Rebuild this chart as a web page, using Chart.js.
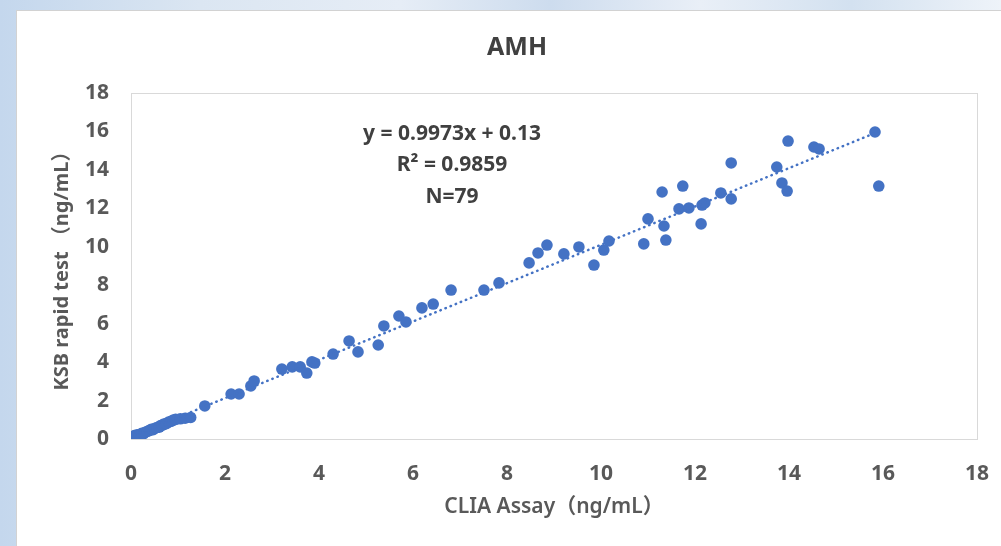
<!DOCTYPE html>
<html>
<head>
<meta charset="utf-8">
<script src="https://cdn.jsdelivr.net/npm/chart.js@4/dist/chart.umd.min.js"></script>
<style>
  html, body { margin:0; padding:0; }
  body {
    width:1001px; height:546px; overflow:hidden; position:relative;
    background: linear-gradient(90deg, #c4d7ed 0%, #dbe6f2 20%, #e6edf6 40%, #cddcee 55%, #e9eff7 70%, #d3e1f0 85%, #eef3f9 100%);
  }
  #card {
    position:absolute; left:16px; top:10px; width:1000px; height:545px;
    background:#ffffff; border:1px solid #d2d2d2;
  }
  #wrap { position:absolute; left:0; top:0; width:1001px; height:546px; }
</style>
</head>
<body>
<div id="card"></div>
<div id="wrap"><canvas id="c" width="1001" height="546"></canvas></div>
<script>
// ---- data ----
const chartTitle = "AMH";
const xAxisTitle = "CLIA Assay（ng/mL）";
const yAxisTitle = "KSB rapid test （ng/mL）";
const xTicks = [0, 2, 4, 6, 8, 10, 12, 14, 16, 18];
const yTicks = [0, 2, 4, 6, 8, 10, 12, 14, 16, 18];

const cliaAssay = [
  0.08, 0.12, 0.15, 0.18, 0.20, 0.23, 0.27, 0.30, 0.35, 0.40,
  0.43, 0.47, 0.50, 0.55, 0.60, 0.63, 0.67, 0.70, 0.75, 0.80,
  0.85, 0.90, 0.95, 1.05, 1.15, 1.27,
  1.57, 2.13, 2.30, 2.55, 2.62,
  3.21, 3.43, 3.60, 3.74, 3.85, 3.91, 4.30, 4.64, 4.83, 5.26,
  5.38, 5.70, 5.85, 6.19, 6.43, 6.81, 7.51, 7.83, 8.47, 8.66,
  8.85, 9.21, 9.53, 9.85, 10.06, 10.17,
  10.91, 11.00, 11.30, 11.34, 11.38, 11.66, 11.74, 11.87, 12.13, 12.15,
  12.21, 12.55, 12.77, 12.77, 13.74, 13.85, 13.96,
  13.98, 14.53, 14.64, 15.83, 15.91
];
const ksbRapid = [
  0.18, 0.20, 0.22, 0.20, 0.25, 0.30, 0.28, 0.35, 0.40, 0.45,
  0.50, 0.48, 0.55, 0.60, 0.62, 0.70, 0.72, 0.78, 0.80, 0.88,
  0.92, 0.98, 1.02, 1.05, 1.08, 1.12,
  1.72, 2.34, 2.34, 2.76, 3.02,
  3.64, 3.75, 3.75, 3.43, 4.01, 3.95, 4.42, 5.10, 4.53, 4.89,
  5.88, 6.40, 6.09, 6.82, 7.02, 7.75, 7.75, 8.12, 9.16, 9.68,
  10.09, 9.63, 9.99, 9.05, 9.83, 10.30,
  10.15, 11.45, 12.85, 11.08, 10.35, 11.97, 13.16, 12.02, 11.19, 12.17,
  12.28, 12.80, 14.36, 12.49, 14.15, 13.32, 12.90,
  15.50, 15.19, 15.09, 15.97, 13.16
];
// linear trendline reported on the chart
const trendSlope = 0.9973;
const trendIntercept = 0.13;
const trendRange = [0.08, 15.91];
const annotationLines = ["y = 0.9973x + 0.13", "R² = 0.9859", "N=79"];

// ---- build ----
const points = cliaAssay.map((x, i) => ({ x: x, y: ksbRapid[i] }));
const trend = trendRange.map(x => ({ x: x, y: trendSlope * x + trendIntercept }));

const FONT = '"Noto Sans", "Noto Sans CJK SC", sans-serif';
const BLUE = '#4472C4';
const GREY = '#595959';

const decorPlugin = {
  id: 'decor',
  beforeDatasetsDraw(chart) {
    const { ctx, chartArea: a } = chart;
    ctx.save();
    ctx.strokeStyle = '#d9d9d9';
    ctx.lineWidth = 1;
    ctx.strokeRect(Math.round(a.left) + 0.5, Math.round(a.top) + 0.5,
                   Math.round(a.right - a.left), Math.round(a.bottom - a.top));
    ctx.restore();
  },
  afterDraw(chart) {
    const { ctx, scales } = chart;
    ctx.save();
    ctx.fillStyle = '#404040';
    ctx.textAlign = 'center';
    ctx.textBaseline = 'middle';
    ctx.font = 'bold 25px ' + FONT;
    ctx.fillText(chartTitle, 517, 48);
    // equation block, anchored in data space
    ctx.font = 'bold 21px ' + FONT;
    const ax = scales.x.getPixelForValue(6.83);
    const ay = scales.y.getPixelForValue(15.87);
    annotationLines.forEach((t, i) => ctx.fillText(t, ax, ay + i * 31.5));
    ctx.restore();
  }
};

new Chart(document.getElementById('c'), {
  type: 'scatter',
  data: {
    datasets: [
      {
        label: 'trend',
        type: 'line',
        data: trend,
        borderColor: BLUE,
        borderWidth: 2.5,
        borderDash: [0.5, 5],
        borderCapStyle: 'round',
        pointRadius: 0,
        fill: false,
        order: 0
      },
      {
        label: 'AMH',
        data: points,
        backgroundColor: BLUE,
        borderColor: BLUE,
        borderWidth: 0,
        pointRadius: 5.8,
        order: 1
      }
    ]
  },
  options: {
    responsive: false,
    animation: false,
    layout: { padding: { left: 40, right: 24, top: 93, bottom: 0 } },
    plugins: { legend: { display: false }, tooltip: { enabled: false }, title: { display: false } },
    scales: {
      x: {
        type: 'linear', min: 0, max: 18,
        afterBuildTicks: s => { s.ticks = xTicks.map(v => ({ value: v })); },
        afterFit: s => { s.height = 107; s.paddingLeft = 0; s.paddingRight = 0; },
        grid: { display: false, drawTicks: false },
        border: { display: false },
        ticks: { padding: 22, color: GREY, font: { family: FONT, size: 21, weight: 'bold' } },
        title: { display: true, text: xAxisTitle, color: GREY, padding: { top: 0, bottom: 26 },
                 font: { family: FONT, size: 21, weight: '600' } }
      },
      y: {
        type: 'linear', min: 0, max: 18,
        afterBuildTicks: s => { s.ticks = yTicks.map(v => ({ value: v })); },
        afterFit: s => { s.width = 91; s.paddingTop = 0; s.paddingBottom = 0; },
        grid: { display: false, drawTicks: false },
        border: { display: false },
        ticks: { padding: 22, color: GREY, font: { family: FONT, size: 21, weight: 'bold' } },
        title: { display: true, text: yAxisTitle, color: GREY, padding: { top: 10, bottom: 0 },
                 font: { family: FONT, size: 20, weight: 'bold' } }
      }
    }
  },
  plugins: [decorPlugin]
});
</script>
</body>
</html>
